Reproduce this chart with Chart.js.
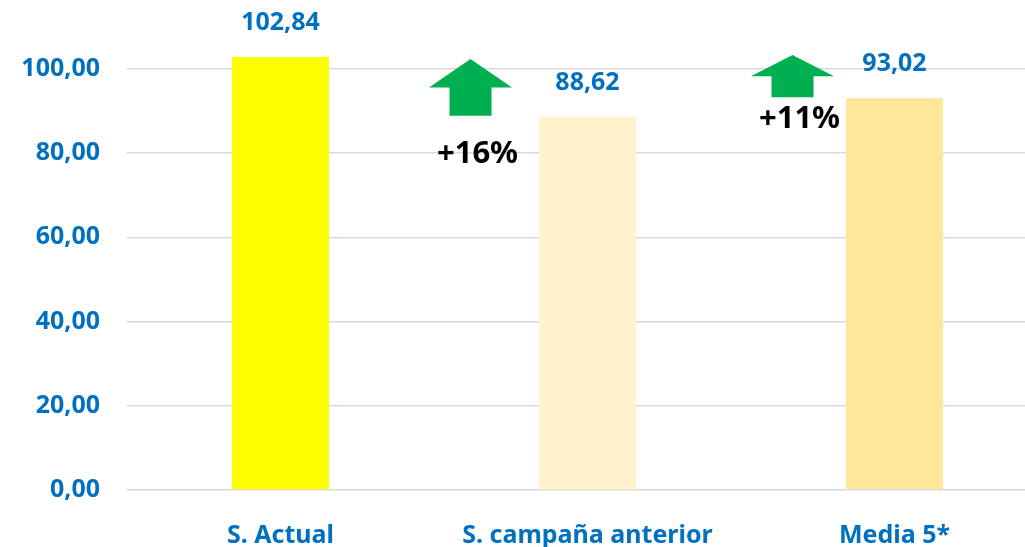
<!DOCTYPE html>
<html>
<head>
<meta charset="utf-8">
<script src="https://cdn.jsdelivr.net/npm/chart.js@4"></script>
<style>
  body { margin: 0; overflow: hidden; background: #fff; }
  #wrap { width: 1048px; height: 547px; }
</style>
</head>
<body>
<div id="wrap"><canvas id="stockChart"></canvas></div>
<script>
// data
const categories = ['S. Actual', 'S. campaña anterior', 'Media 5*'];
const values = [102.84, 88.62, 93.02];
const barColors = ['#FFFF00', '#FFF2CC', '#FFE699'];
const yTicks = [0, 20, 40, 60, 80, 100];

// green arrows: from the compared bar up to the current value
const changeFrom = [1, 2];          // index of bar being compared
const changeText = ['+16%', '+11%'];

const blue = '#0070C0';
const font = "'Noto Sans', sans-serif";

function fmt(v) {
    return v.toFixed(2).replace('.', ',');
}

// value labels over each bar
const valueLabels = {
    id: 'valueLabels',
    afterDatasetsDraw(chart) {
        const ctx = chart.ctx;
        const meta = chart.getDatasetMeta(0);
        ctx.save();
        ctx.fillStyle = blue;
        ctx.font = 'bold 25px ' + font;
        ctx.textAlign = 'center';
        ctx.textBaseline = 'middle';
        meta.data.forEach((bar, i) => {
            ctx.fillText(fmt(values[i]), bar.x, bar.y - 34);
        });
        ctx.restore();
    }
};

// arrows with percentage change
const arrows = {
    id: 'arrows',
    afterDatasetsDraw(chart) {
        const ctx = chart.ctx;
        const x = chart.scales.x;
        const y = chart.scales.y;
        const shifts = [-117, -102];   // arrow sits left of the compared bar
        const tipLift = [-2, 2];
        const textGap = [38, 22];
        ctx.save();
        changeFrom.forEach((idx, i) => {
            const cx = x.getPixelForValue(idx) + shifts[i];
            const top = y.getPixelForValue(values[0]) - tipLift[i];
            const bottom = y.getPixelForValue(values[idx]) - 1;
            const head = (bottom - top) / 2;
            ctx.fillStyle = '#00B050';
            ctx.beginPath();
            ctx.moveTo(cx, top);
            ctx.lineTo(cx + 41.5, top + head);
            ctx.lineTo(cx + 21, top + head);
            ctx.lineTo(cx + 21, bottom);
            ctx.lineTo(cx - 21, bottom);
            ctx.lineTo(cx - 21, top + head);
            ctx.lineTo(cx - 41.5, top + head);
            ctx.closePath();
            ctx.fill();

            ctx.fillStyle = '#000';
            ctx.font = 'bold 31px ' + font;
            ctx.textAlign = 'center';
            ctx.textBaseline = 'middle';
            ctx.fillText(changeText[i], cx + 7, bottom + textGap[i]);
        });
        ctx.restore();
    }
};

const ctx = document.getElementById('stockChart').getContext('2d');
const stockChart = new Chart(ctx, {
    type: 'bar',
    data: {
        labels: categories,
        datasets: [{
            data: values,
            backgroundColor: barColors,
            barPercentage: 0.316,
            categoryPercentage: 1
        }]
    },
    options: {
        responsive: true,
        maintainAspectRatio: false,
        animation: false,
        layout: { autoPadding: false, padding: 0 },
        plugins: {
            legend: { display: false },
            tooltip: { enabled: false }
        },
        scales: {
            x: {
                grid: { display: false },
                border: { display: false },
                ticks: {
                    color: blue,
                    font: { family: font, size: 25, weight: 'bold' },
                    padding: 23,
                    maxRotation: 0
                },
                afterFit(scale) { scale.height = 57; }
            },
            y: {
                min: 0,
                max: 106.4,
                bounds: 'data',
                border: { display: false },
                grid: { color: '#D9D9D9', lineWidth: 1.5, drawTicks: false },
                ticks: {
                    stepSize: 20,
                    includeBounds: false,
                    color: blue,
                    font: { family: font, size: 25, weight: 'bold' },
                    padding: 27,
                    callback: v => fmt(v)
                },
                afterBuildTicks(scale) {
                    scale.ticks = yTicks.map(v => ({ value: v }));
                },
                afterFit(scale) { scale.width = 127; }
            }
        }
    },
    plugins: [valueLabels, arrows]
});
</script>
</body>
</html>
